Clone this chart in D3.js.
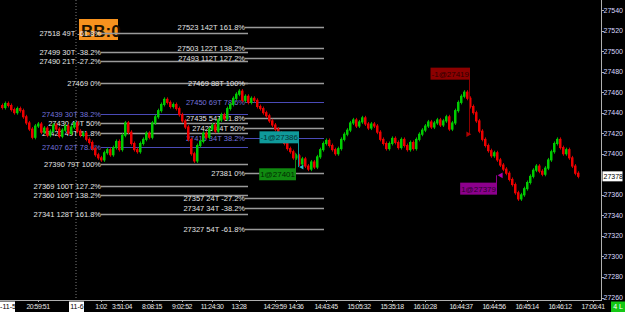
<!DOCTYPE html>
<html>
<head>
<meta charset="utf-8">
<script src="https://cdn.jsdelivr.net/npm/d3@7"></script>
<style>
  html, body { margin: 0; padding: 0; background: #000; }
  svg { display: block; font-family: "Liberation Sans", Arial, sans-serif; }
</style>
</head>
<body>
<div id="chart"></div>
<script>
// closing prices, one per bar (open = previous close)
const closes = [
  27445, 27449, 27447, 27443, 27440, 27444, 27442, 27436, 27430, 27424,
  27416, 27427, 27429, 27421, 27425, 27418, 27422, 27428, 27424, 27417,
  27423, 27427, 27420, 27426, 27430, 27422, 27418, 27420, 27414, 27411,
  27405, 27399, 27396, 27394, 27401, 27404, 27399, 27406, 27412, 27404,
  27418, 27430, 27421, 27410, 27404, 27402, 27410, 27414, 27420, 27416,
  27430, 27436, 27442, 27448, 27453, 27450, 27446, 27448, 27444, 27438,
  27432, 27426, 27414, 27400, 27393, 27408, 27412, 27420, 27416, 27424,
  27428, 27422, 27433, 27438, 27434, 27444, 27448, 27454, 27458, 27461,
  27452, 27456, 27450, 27454, 27452, 27446, 27444, 27440, 27437, 27432,
  27428, 27424, 27420, 27414, 27410, 27405, 27402, 27396, 27398, 27390,
  27395, 27388, 27385, 27392, 27387, 27397, 27404, 27410, 27413, 27408,
  27404, 27400, 27405, 27414, 27419, 27423, 27430, 27433, 27427, 27431,
  27435, 27429, 27425, 27429, 27427, 27421, 27414, 27410, 27405, 27410,
  27415, 27411, 27406, 27414, 27408, 27404, 27411, 27405, 27414, 27419,
  27423, 27427, 27431, 27426, 27430, 27433, 27428, 27432, 27436, 27424,
  27430, 27442, 27450, 27456, 27460, 27454, 27446, 27440, 27432, 27422,
  27414, 27408, 27403, 27398, 27401, 27394, 27389, 27385, 27381, 27375,
  27370, 27362, 27356, 27360, 27366, 27372, 27378, 27384, 27388, 27383,
  27380, 27386, 27394, 27402, 27410, 27414, 27406, 27400, 27404, 27396,
  27388, 27381, 27378
];
const firstOpen = 27447;

// fibonacci levels, left set
const fibLeftPrices = [27518, 27499, 27490, 27469, 27439, 27430, 27420, 27407, 27390, 27369, 27360, 27341];
const fibLeftLabels = ["27518 49T -61.8%", "27499 30T -38.2%", "27490 21T -27.2%", "27469 0%",
  "27439 30T 38.2%", "27430 40T 50%", "27420 49T 61.8%", "27407 62T 78.6%", "27390 79T 100%",
  "27369 100T 127.2%", "27360 109T 138.2%", "27341 128T 161.8%"];
const fibLeftBlue = [false, false, false, false, true, false, false, true, false, false, false, false];

// fibonacci levels, right set
const fibRightPrices = [27523, 27503, 27493, 27469, 27450, 27435, 27425, 27415, 27381, 27357, 27347, 27327];
const fibRightLabels = ["27523 142T 161.8%", "27503 122T 138.2%", "27493 112T 127.2%", "27469 88T 100%",
  "27450 69T 78.6%", "27435 54T 61.8%", "27425 44T 50%", "27415 34T 38.2%", "27381 0%",
  "27357 24T -27.2%", "27347 34T -38.2%", "27327 54T -61.8%"];
const fibRightBlue = [false, false, false, false, true, false, false, true, false, false, false, false];

// trades: label, bar, fill price, price where the tag sits
const tradeLabels = ["-1@27386", "1@27401", "-1@27419", "1@27379"];
const tradeBars = [99, 98, 156, 165];
const tradeFill = [27387, 27401, 27419, 27379];
const tradeTagPrice = [27416, 27380, 27478, 27366];
const tradeColors = ["#0f9a9a", "#108a10", "#8c0000", "#8c008c"];
const tradeText = ["#053434", "#022a02", "#2c0000", "#2c002c"];

// axis
const priceTicks = [27540, 27520, 27500, 27480, 27460, 27440, 27420, 27400, 27360, 27340, 27320, 27300, 27280, 27260];
const lastPrice = 27378;
const timeLabels = ["20:59:51", "1:02", "3:51:04", "8:08:15", "9:02:52", "11:24:30", "13:28", "14:29:59",
  "14:36", "14:43:45", "15:05:32", "15:35:18", "16:10:28", "16:44:37", "16:44:56", "16:45:14", "16:46:12", "17:06:41"];
const timeBars = [12, 33, 40, 50, 60, 70, 79, 91, 98, 108, 119, 130, 141, 153, 164, 175, 186, 197];
const dateLabels = ["-11-5", "11-6"];
const dateBars = [2, 25];

const W = 625, H = 312, plotRight = 601, plotBottom = 300;

const svg = d3.select('#chart').append('svg')
  .attr('width', W).attr('height', H);
svg.append('rect').attr('width', W).attr('height', H).attr('fill', '#000');

const x = d3.scaleLinear().domain([0, 1]).range([2, 5]);
const y = d3.scaleLinear().domain([27540, 27260]).range([10, 297.5]);

svg.append('defs').append('clipPath').attr('id', 'plot')
  .append('rect').attr('width', plotRight).attr('height', plotBottom);
const plot = svg.append('g').attr('clip-path', 'url(#plot)');

// session separator
plot.append('line')
  .attr('x1', 76).attr('x2', 76).attr('y1', 0).attr('y2', plotBottom)
  .attr('stroke', '#7a7a7a').attr('stroke-dasharray', '1,2');

// BB box
plot.append('rect').attr('x', 79).attr('y', 19).attr('width', 39).attr('height', 21).attr('fill', '#f7921e');
plot.append('text').attr('x', 81).attr('y', 36.5)
  .attr('font-size', 17).attr('font-weight', 'bold').attr('fill', '#1e1200').text('BB:0');

function drawFib(prices, labels, blue, labelX, x1, x2) {
  const g = plot.append('g');
  g.selectAll('line').data(prices).enter().append('line')
    .attr('x1', x1).attr('x2', x2)
    .attr('y1', d => Math.round(y(d)) + 0.5).attr('y2', d => Math.round(y(d)) + 0.5)
    .attr('stroke', (d, i) => blue[i] ? '#4a4ab8' : '#9a9a9a')
    .attr('stroke-width', (d, i) => blue[i] ? 1 : 1.5);
  g.selectAll('text').data(prices).enter().append('text')
    .attr('x', labelX).attr('y', d => y(d) + 3)
    .attr('text-anchor', 'end').attr('font-size', 7.5)
    .attr('fill', (d, i) => blue[i] ? '#7272dc' : '#e4e4e4')
    .text((d, i) => labels[i]);
}
drawFib(fibLeftPrices, fibLeftLabels, fibLeftBlue, 101, 101, 248);
drawFib(fibRightPrices, fibRightLabels, fibRightBlue, 245, 245, 324);

// candles
const bars = closes.map((c, i) => ({ i, o: i === 0 ? firstOpen : closes[i - 1], c }));
const cg = plot.append('g');
cg.selectAll('line').data(bars).enter().append('line')
  .attr('x1', d => x(d.i) + 0.5).attr('x2', d => x(d.i) + 0.5)
  .attr('y1', d => y(Math.max(d.o, d.c)) - 2).attr('y2', d => y(Math.min(d.o, d.c)) + 2)
  .attr('stroke', d => d.c >= d.o ? '#00b000' : '#c80000');
cg.selectAll('rect').data(bars).enter().append('rect')
  .attr('x', d => x(d.i) - 1)
  .attr('width', 2.5)
  .attr('y', d => y(Math.max(d.o, d.c)) - 0.5)
  .attr('height', d => Math.max(1.5, Math.abs(y(d.o) - y(d.c)) + 1))
  .attr('fill', d => d.c >= d.o ? '#00cc00' : '#ee0000');

// trade tags
tradeLabels.forEach((label, k) => {
  const bx = x(tradeBars[k]);
  const ty = y(tradeTagPrice[k]);
  const fy = y(tradeFill[k]);
  plot.append('line')
    .attr('x1', bx - 0.5).attr('x2', bx - 0.5).attr('y1', ty).attr('y2', fy)
    .attr('stroke', tradeColors[k]).attr('stroke-width', 1);
  const rect = plot.append('rect')
    .attr('y', ty - 6).attr('height', 12)
    .attr('fill', tradeColors[k]);
  const t = plot.append('text')
    .attr('x', bx - 1).attr('y', ty + 3).attr('text-anchor', 'end')
    .attr('font-size', 8).attr('fill', tradeText[k]).text(label);
  const w = t.node().getComputedTextLength() + 2;
  rect.attr('x', bx - w).attr('width', w);
});
// fill markers
plot.append('path')
  .attr('d', d3.symbol(d3.symbolTriangle, 14)())
  .attr('transform', `translate(${x(155) + 1},${y(27419)}) rotate(90)`)
  .attr('fill', '#b00000');
plot.append('path')
  .attr('d', d3.symbol(d3.symbolTriangle, 14)())
  .attr('transform', `translate(${x(166) + 1},${y(27379)}) rotate(-90)`)
  .attr('fill', '#b000b0');
plot.append('path')
  .attr('d', d3.symbol(d3.symbolTriangle, 10)())
  .attr('transform', `translate(${x(100)},${y(27387)}) rotate(-90)`)
  .attr('fill', '#20c0c0');

// right axis
svg.append('line').attr('x1', plotRight + 0.5).attr('x2', plotRight + 0.5)
  .attr('y1', 0).attr('y2', plotBottom).attr('stroke', '#b0b0b0');
const ra = svg.append('g');
ra.selectAll('line').data(priceTicks).enter().append('line')
  .attr('x1', plotRight).attr('x2', plotRight + 3)
  .attr('y1', d => Math.round(y(d)) + 0.5).attr('y2', d => Math.round(y(d)) + 0.5)
  .attr('stroke', '#b0b0b0');
ra.selectAll('text').data(priceTicks).enter().append('text')
  .attr('x', plotRight + 2.5).attr('y', d => y(d) + 2.5)
  .attr('font-size', 7).attr('fill', '#d8d8ff').text(d => d);
ra.append('rect').attr('x', plotRight + 1.5).attr('y', y(lastPrice) - 5).attr('width', 20).attr('height', 10).attr('fill', '#fff');
ra.append('text').attr('x', plotRight + 2.5).attr('y', y(lastPrice) + 2.5)
  .attr('font-size', 7).attr('fill', '#000').text(lastPrice);

// bottom axis
svg.append('line').attr('x1', 0).attr('x2', plotRight + 1)
  .attr('y1', plotBottom + 0.5).attr('y2', plotBottom + 0.5).attr('stroke', '#b0b0b0');
const ba = svg.append('g');
ba.selectAll('line').data(timeBars).enter().append('line')
  .attr('x1', d => x(d) + 0.5).attr('x2', d => x(d) + 0.5)
  .attr('y1', plotBottom).attr('y2', plotBottom + 2).attr('stroke', '#b0b0b0');
ba.selectAll('text.t').data(timeBars).enter().append('text').attr('class', 't')
  .attr('x', d => x(d)).attr('y', 308.5).attr('text-anchor', 'middle')
  .attr('font-size', 6.9).attr('letter-spacing', -0.45).attr('fill', '#e8e8e8')
  .text((d, i) => timeLabels[i]);
dateBars.forEach((b, k) => {
  const cx = x(b);
  ba.append('rect').attr('x', Math.max(0, cx - 8)).attr('y', plotBottom + 1.5).attr('width', 15).attr('height', 10.5).attr('fill', '#fff');
  ba.append('text').attr('x', cx).attr('y', 308.5).attr('text-anchor', 'middle')
    .attr('font-size', 7).attr('fill', '#000').text(dateLabels[k]);
});
ba.append('rect').attr('x', 611).attr('y', plotBottom + 1.5).attr('width', 14).attr('height', 10.5).attr('fill', '#14c814');
ba.append('text').attr('x', 618).attr('y', 308.5).attr('text-anchor', 'middle')
  .attr('font-size', 7).attr('fill', '#fff').text('4 L');
</script>
</body>
</html>
